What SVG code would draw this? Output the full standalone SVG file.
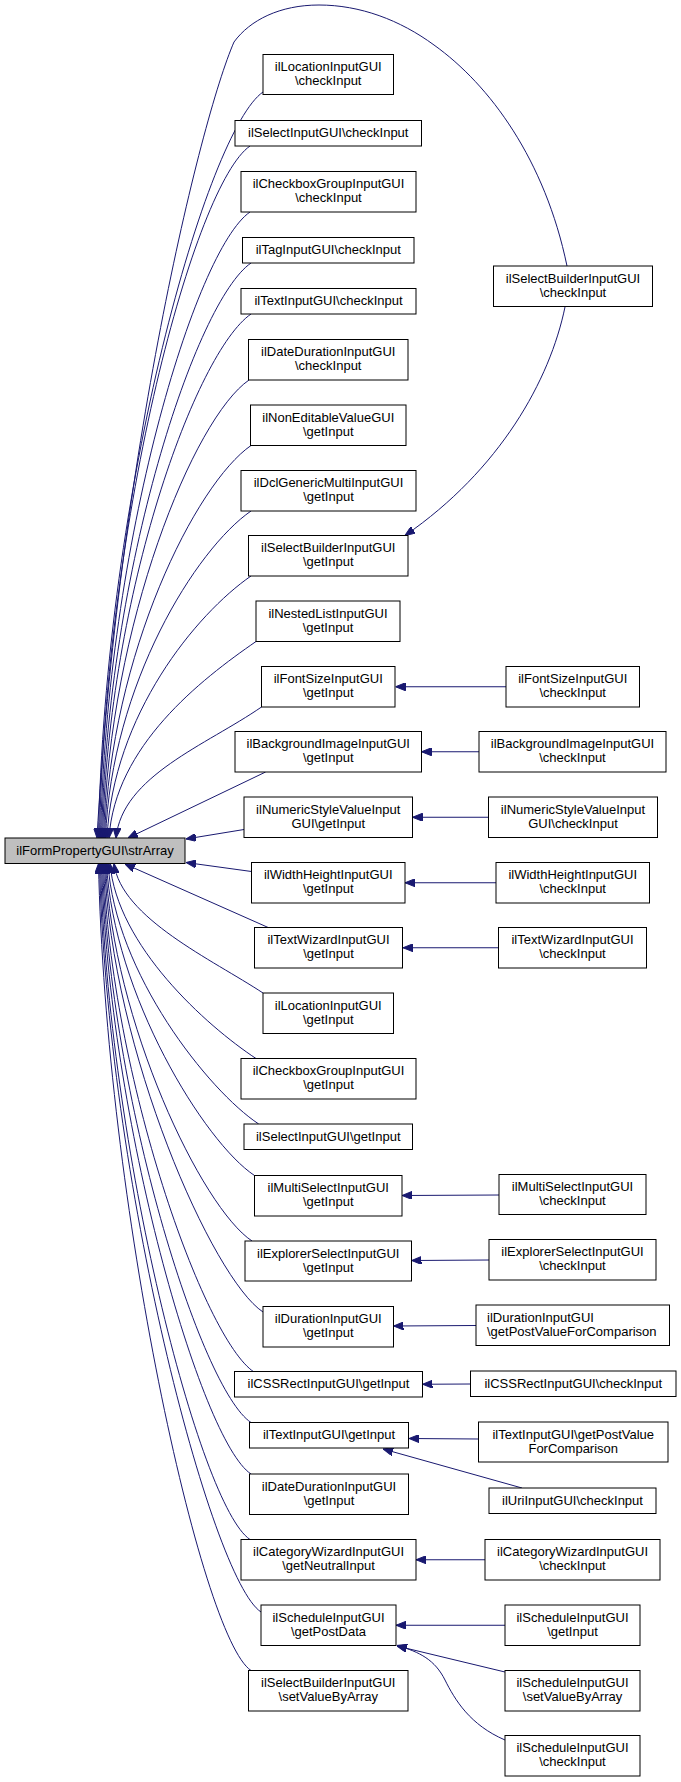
<svg xmlns="http://www.w3.org/2000/svg" width="681" height="1782" viewBox="0 0 681 1782">
<style>
.node rect{fill:#ffffff;stroke:#000000;stroke-width:1}
.root rect{fill:#bfbfbf;stroke:#000000;stroke-width:1}
text{font-family:"Liberation Sans",Arial,Helvetica,sans-serif;font-size:13px;text-anchor:middle;fill:#000000}
.l{text-anchor:start}
.edges path{fill:none;stroke:#191970;stroke-width:1;marker-end:url(#ah)}
</style>
<defs>
<marker id="ah" markerWidth="10" markerHeight="8" refX="10" refY="4" orient="auto" markerUnits="userSpaceOnUse">
<path d="M0,0 L10,4 L0,8 z" fill="#191970" stroke="#191970" stroke-width="1"/>
</marker>
</defs>
<rect width="681" height="1782" fill="#ffffff"/>
<g class="edges" id="edges">
<path d="M567,266 C545,160 490,85 434,45 C400,20 360,5 319,5 C280,5 250,20 234,42 C200,120 118,460 97,838"/>
<path d="M263,92 C208,130 104.5,487 98.5,838"/>
<path d="M250,146 C195,184 105.5,513 99.5,838"/>
<path d="M250,212 C195,250 106.5,544 100.5,838"/>
<path d="M251,263 C196,301 107.5,568 101.5,838"/>
<path d="M251,314 C196,352 108.5,592 102.5,838"/>
<path d="M249,380 C194,418 109.5,623 103.5,838"/>
<path d="M251,445.5 C196,483.5 110.5,653.5 104.5,838"/>
<path d="M251,511 C196,549 111.5,684 105.5,838"/>
<path d="M251,576 C196,614 113,715 107,838"/>
<path d="M256,641.5 C201,679.5 115,746 109,838"/>
<path d="M261.5,707 C206.5,745 122,776 116,838"/>
<path d="M265.6,772 L128,838"/>
<path d="M244,829.5 L186,839"/>
<path d="M251.5,871.5 L186,862.5"/>
<path d="M268.6,927.7 L125,864"/>
<path d="M263,993 C213,960 121,918 114,863.5"/>
<path d="M256,1058.5 C206,1025.5 117,945.5 110,863.5"/>
<path d="M258.7,1124 C208.7,1091 115,973 108,863.5"/>
<path d="M254.5,1175.5 C204.5,1142.5 113.5,994.5 106.5,863.5"/>
<path d="M252,1241 C202,1208 112.5,1022 105.5,863.5"/>
<path d="M263,1312 C213,1279 111.5,1051.5 104.5,863.5"/>
<path d="M254,1372 C204,1339 110.5,1077 103.5,863.5"/>
<path d="M251,1422.5 C201,1389.5 109.5,1098 102.5,863.5"/>
<path d="M251,1474 C201,1441 108.5,1120 101.5,863.5"/>
<path d="M250,1539.5 C200,1506.5 107.5,1147.5 100.5,863.5"/>
<path d="M261,1612 C211,1579 106.5,1177.5 99.5,863.5"/>
<path d="M251,1670.5 C201,1637.5 105.5,1202.5 98.5,863.5"/>
<path d="M565,307 C550,380 500,470 405,535.5"/>
<path d="M506,686.75 L395.5,686.75"/>
<path d="M479,751.75 L421.5,751.75"/>
<path d="M488.5,817.25 L412.5,817.25"/>
<path d="M496,882.75 L405,882.75"/>
<path d="M498.5,947.75 L403,947.75"/>
<path d="M499,1195 L402,1195.5"/>
<path d="M489,1260 L411.5,1260.5"/>
<path d="M476,1325.5 L393.5,1326"/>
<path d="M470.5,1384 L422.5,1384.25"/>
<path d="M478.5,1439 L409,1438.5"/>
<path d="M522,1488 L383,1449"/>
<path d="M485,1559.75 L416,1559.75"/>
<path d="M505,1625.25 L396,1625.25"/>
<path d="M505,1672 L397,1646"/>
<path d="M505,1740 C470,1725 455,1700 445,1680 C435,1660 420,1652 397,1645.5"/>
</g>
<g class="root" id="n_root"><rect x="5" y="838" width="180" height="25.5"/><text x="95" y="854.75">ilFormPropertyGUI\strArray</text></g>
<g class="node" id="n_loc_check"><rect x="263" y="54.5" width="130.5" height="40"/><text x="328.25" y="71">ilLocationInputGUI</text><text x="328.25" y="85">\checkInput</text></g>
<g class="node" id="n_sel_check"><rect x="235" y="120.5" width="186.5" height="25.5"/><text x="328.25" y="137.25">ilSelectInputGUI\checkInput</text></g>
<g class="node" id="n_cb_check"><rect x="241" y="171.5" width="175" height="40.5"/><text x="328.5" y="188.25">ilCheckboxGroupInputGUI</text><text x="328.5" y="202.25">\checkInput</text></g>
<g class="node" id="n_tag_check"><rect x="242.5" y="237.5" width="171.5" height="25.5"/><text x="328.25" y="254.25">ilTagInputGUI\checkInput</text></g>
<g class="node" id="n_text_check"><rect x="241" y="288.5" width="175" height="25.5"/><text x="328.5" y="305.25">ilTextInputGUI\checkInput</text></g>
<g class="node" id="n_dd_check"><rect x="248.5" y="339.5" width="159.5" height="40.5"/><text x="328.25" y="356.25">ilDateDurationInputGUI</text><text x="328.25" y="370.25">\checkInput</text></g>
<g class="node" id="n_ne_get"><rect x="250.5" y="405" width="155.5" height="40.5"/><text x="328.25" y="421.75">ilNonEditableValueGUI</text><text x="328.25" y="435.75">\getInput</text></g>
<g class="node" id="n_dcl_get"><rect x="241" y="470.5" width="175" height="40.5"/><text x="328.5" y="487.25">ilDclGenericMultiInputGUI</text><text x="328.5" y="501.25">\getInput</text></g>
<g class="node" id="n_sb_get"><rect x="248.5" y="535.5" width="159.5" height="40.5"/><text x="328.25" y="552.25">ilSelectBuilderInputGUI</text><text x="328.25" y="566.25">\getInput</text></g>
<g class="node" id="n_nl_get"><rect x="256" y="601" width="144" height="40.5"/><text x="328" y="617.75">ilNestedListInputGUI</text><text x="328" y="631.75">\getInput</text></g>
<g class="node" id="n_fs_get"><rect x="261.5" y="666.5" width="133.5" height="40.5"/><text x="328.25" y="683.25">ilFontSizeInputGUI</text><text x="328.25" y="697.25">\getInput</text></g>
<g class="node" id="n_bg_get"><rect x="235" y="731.5" width="186.5" height="40.5"/><text x="328.25" y="748.25">ilBackgroundImageInputGUI</text><text x="328.25" y="762.25">\getInput</text></g>
<g class="node" id="n_ns_get"><rect x="244" y="797" width="168.5" height="40.5"/><text x="328.25" y="813.75">ilNumericStyleValueInput</text><text x="328.25" y="827.75">GUI\getInput</text></g>
<g class="node" id="n_wh_get"><rect x="251.5" y="862.5" width="153.5" height="40.5"/><text x="328.25" y="879.25">ilWidthHeightInputGUI</text><text x="328.25" y="893.25">\getInput</text></g>
<g class="node" id="n_tw_get"><rect x="254.5" y="927.5" width="148" height="40.5"/><text x="328.5" y="944.25">ilTextWizardInputGUI</text><text x="328.5" y="958.25">\getInput</text></g>
<g class="node" id="n_loc_get"><rect x="263" y="993" width="130.5" height="40.5"/><text x="328.25" y="1009.75">ilLocationInputGUI</text><text x="328.25" y="1023.75">\getInput</text></g>
<g class="node" id="n_cb_get"><rect x="241" y="1058.5" width="175" height="40.5"/><text x="328.5" y="1075.25">ilCheckboxGroupInputGUI</text><text x="328.5" y="1089.25">\getInput</text></g>
<g class="node" id="n_sel_get"><rect x="244" y="1124" width="168.5" height="25.5"/><text x="328.25" y="1140.75">ilSelectInputGUI\getInput</text></g>
<g class="node" id="n_ms_get"><rect x="254.5" y="1175.5" width="147.5" height="40.5"/><text x="328.25" y="1192.25">ilMultiSelectInputGUI</text><text x="328.25" y="1206.25">\getInput</text></g>
<g class="node" id="n_es_get"><rect x="245" y="1241" width="166.5" height="40"/><text x="328.25" y="1257.5">ilExplorerSelectInputGUI</text><text x="328.25" y="1271.5">\getInput</text></g>
<g class="node" id="n_du_get"><rect x="263" y="1306.5" width="130.5" height="40.5"/><text x="328.25" y="1323.25">ilDurationInputGUI</text><text x="328.25" y="1337.25">\getInput</text></g>
<g class="node" id="n_css_get"><rect x="234.5" y="1371.5" width="188" height="25.5"/><text x="328.5" y="1388.25">ilCSSRectInputGUI\getInput</text></g>
<g class="node" id="n_ti_get"><rect x="249.5" y="1422.5" width="159" height="25.5"/><text x="329" y="1439.25">ilTextInputGUI\getInput</text></g>
<g class="node" id="n_dd_get"><rect x="249.5" y="1474" width="159" height="40.5"/><text x="329" y="1490.75">ilDateDurationInputGUI</text><text x="329" y="1504.75">\getInput</text></g>
<g class="node" id="n_cw_get"><rect x="241" y="1539.5" width="175" height="40.5"/><text x="328.5" y="1556.25">ilCategoryWizardInputGUI</text><text x="328.5" y="1570.25">\getNeutralInput</text></g>
<g class="node" id="n_sch_post"><rect x="261" y="1605" width="135" height="40.5"/><text x="328.5" y="1621.75">ilScheduleInputGUI</text><text x="328.5" y="1635.75">\getPostData</text></g>
<g class="node" id="n_sb_set"><rect x="248.5" y="1670.5" width="159.5" height="40.5"/><text x="328.25" y="1687.25">ilSelectBuilderInputGUI</text><text x="328.25" y="1701.25">\setValueByArray</text></g>
<g class="node" id="n_sb_check"><rect x="493.5" y="266" width="159" height="40.5"/><text x="573" y="282.75">ilSelectBuilderInputGUI</text><text x="573" y="296.75">\checkInput</text></g>
<g class="node" id="n_fs_check"><rect x="506" y="666.5" width="133.5" height="40.5"/><text x="572.75" y="683.25">ilFontSizeInputGUI</text><text x="572.75" y="697.25">\checkInput</text></g>
<g class="node" id="n_bg_check"><rect x="479" y="731.5" width="187" height="40.5"/><text x="572.5" y="748.25">ilBackgroundImageInputGUI</text><text x="572.5" y="762.25">\checkInput</text></g>
<g class="node" id="n_ns_check"><rect x="488.5" y="797" width="169" height="40.5"/><text x="573" y="813.75">ilNumericStyleValueInput</text><text x="573" y="827.75">GUI\checkInput</text></g>
<g class="node" id="n_wh_check"><rect x="496" y="862.5" width="153.5" height="40.5"/><text x="572.75" y="879.25">ilWidthHeightInputGUI</text><text x="572.75" y="893.25">\checkInput</text></g>
<g class="node" id="n_tw_check"><rect x="498.5" y="927.5" width="148" height="40.5"/><text x="572.5" y="944.25">ilTextWizardInputGUI</text><text x="572.5" y="958.25">\checkInput</text></g>
<g class="node" id="n_ms_check"><rect x="499" y="1174.5" width="147" height="40"/><text x="572.5" y="1191">ilMultiSelectInputGUI</text><text x="572.5" y="1205">\checkInput</text></g>
<g class="node" id="n_es_check"><rect x="489" y="1239.5" width="167" height="40.5"/><text x="572.5" y="1256.25">ilExplorerSelectInputGUI</text><text x="572.5" y="1270.25">\checkInput</text></g>
<g class="node" id="n_du_post"><rect x="476" y="1305" width="193.5" height="40.5"/><text class="l" x="487" y="1321.75">ilDurationInputGUI</text><text class="l" x="487" y="1335.75">\getPostValueForComparison</text></g>
<g class="node" id="n_css_check"><rect x="470.5" y="1371" width="205.5" height="25.5"/><text x="573.25" y="1387.75">ilCSSRectInputGUI\checkInput</text></g>
<g class="node" id="n_ti_post"><rect x="478.5" y="1422" width="189.5" height="40"/><text x="573.25" y="1438.5">ilTextInputGUI\getPostValue</text><text x="573.25" y="1452.5">ForComparison</text></g>
<g class="node" id="n_uri_check"><rect x="489" y="1488" width="167" height="25.5"/><text x="572.5" y="1504.75">ilUriInputGUI\checkInput</text></g>
<g class="node" id="n_cw_check"><rect x="485" y="1539.5" width="175" height="40.5"/><text x="572.5" y="1556.25">ilCategoryWizardInputGUI</text><text x="572.5" y="1570.25">\checkInput</text></g>
<g class="node" id="n_sch_get"><rect x="505" y="1605" width="135" height="40.5"/><text x="572.5" y="1621.75">ilScheduleInputGUI</text><text x="572.5" y="1635.75">\getInput</text></g>
<g class="node" id="n_sch_set"><rect x="505" y="1670.5" width="135" height="40.5"/><text x="572.5" y="1687.25">ilScheduleInputGUI</text><text x="572.5" y="1701.25">\setValueByArray</text></g>
<g class="node" id="n_sch_check"><rect x="505" y="1735.5" width="135" height="40.5"/><text x="572.5" y="1752.25">ilScheduleInputGUI</text><text x="572.5" y="1766.25">\checkInput</text></g>
</svg>
